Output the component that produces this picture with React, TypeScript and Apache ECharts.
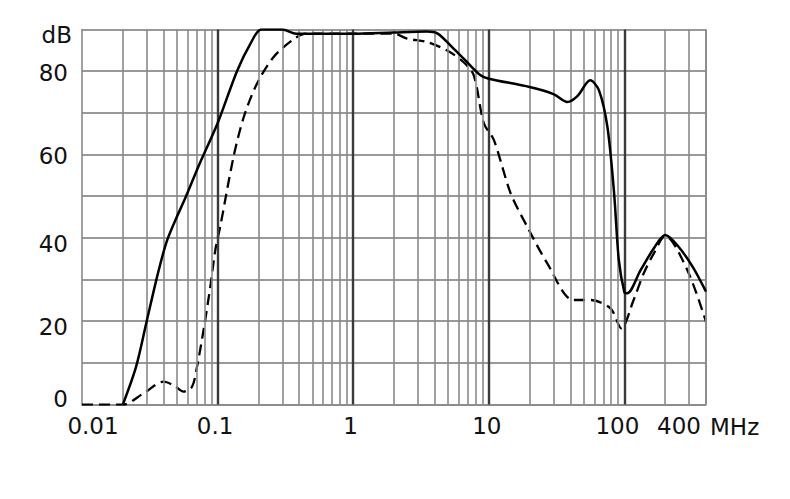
import React, { useEffect, useRef } from "react";
import * as echarts from "echarts";

// Frequency (MHz) / level (dB)
const solidFreq = [0.02, 0.025, 0.03, 0.036, 0.042, 0.05, 0.058, 0.073, 0.1, 0.139, 0.174, 0.21, 0.3, 0.38, 0.5, 1, 2, 3.5, 4.2, 5.5, 6.9, 8.7, 10, 20, 30, 38, 45, 56, 65, 75, 84, 91, 100, 105, 132, 165, 200, 245, 320, 400];
const solidDb = [0, 9, 20, 31, 39, 45, 49.7, 57.5, 67.5, 80, 86.5, 90, 90, 89, 89, 89, 89.3, 89.5, 89, 85.4, 82.2, 79, 78.2, 76.2, 74.5, 72.6, 74, 77.8, 75.4, 66.6, 50.7, 34.7, 27, 26.7, 32.3, 37.5, 40.7, 38.3, 33, 27.1];

const dashedFreq = [0.01, 0.02, 0.0284, 0.04, 0.048, 0.056, 0.0648, 0.0705, 0.0788, 0.0884, 0.0962, 0.105, 0.131, 0.156, 0.195, 0.259, 0.354, 0.45, 1, 2, 2.5, 3.5, 4.9, 6.5, 7.75, 9.2, 10.9, 14.5, 19.2, 27, 42, 56, 79, 95, 117, 139, 165, 200, 291, 400];
const dashedDb = [0, 0, 2.7, 5.5, 4.5, 3.1, 4.3, 9.1, 17.9, 28.3, 37.1, 43, 59.4, 69, 77, 83.4, 87.4, 89, 89, 89, 87.8, 87, 85, 82.2, 79, 67.5, 63.5, 50.7, 42.7, 33.9, 25.1, 25.1, 23.1, 18.3, 25.1, 31.5, 36.3, 40.5, 32.3, 19.9];

const xTickValues = [0.01, 0.1, 1, 10, 100, 400];
const xTickLabels = ["0.01", "0.1", "1", "10", "100", "400"];
const xUnit = "MHz";
const yUnit = "dB";
const yLabelValues = [0, 20, 40, 60, 80];

const FONT = "DejaVu Sans";
const FS = 23;

export default function App() {
  const ref = useRef<HTMLDivElement>(null);
  useEffect(() => {
    if (!ref.current) return;
    const chart = echarts.init(ref.current, undefined, { renderer: "svg" });

    // vertical grid lines: 1..9 x each decade within the axis range
    const gridLines: any[] = [];
    for (let k = -2; k <= 2; k++) {
      for (let m = 1; m <= 9; m++) {
        const v = parseFloat((m * Math.pow(10, k)).toPrecision(6));
        if (v <= 0.01 || v > 400) continue;
        const decade = m === 1;
        gridLines.push({
          xAxis: v,
          lineStyle: decade
            ? { color: "#3a3a3a", width: 2.4, type: "solid" }
            : { color: "#8a8a8a", width: 1.6, type: "solid" },
        });
      }
    }
    gridLines.push({ xAxis: 400, lineStyle: { color: "#8a8a8a", width: 1.6, type: "solid" } });

    const xPad: Record<string, number[]> = {
      "0.01": [0, 0, 0, 22],
      "0.1": [0, 5, 0, 0],
      "1": [0, 5, 0, 0],
      "10": [0, 4, 0, 0],
      "100": [0, 14, 0, 0],
      "400": [0, 54, 0, 0],
    };
    const xRich: any = {};
    xTickLabels.forEach((l, i) => {
      xRich["t" + i] = { fontFamily: FONT, fontSize: FS, color: "#111", padding: xPad[l] };
    });

    const yPad: Record<number, number[]> = {
      0: [0, 4, 12, 0],
      20: [11, 4, 0, 0],
      40: [12, 4, 0, 0],
      60: [2, 4, 0, 0],
      80: [3, 4, 0, 0],
      90: [10, 0, 0, 0],
    };
    const yRich: any = {};
    Object.keys(yPad).forEach((k) => {
      yRich["v" + k] = { fontFamily: FONT, fontSize: FS, color: "#111", padding: yPad[Number(k)] };
    });

    chart.setOption({
      animation: false,
      backgroundColor: "#fff",
      grid: { left: 82, right: 84, top: 29.5, bottom: 94.4, containLabel: false },
      xAxis: {
        type: "log",
        logBase: 10,
        min: 0.01,
        max: 400,
        axisLine: { show: true, lineStyle: { color: "#8a8a8a", width: 1.6 } },
        axisTick: { show: false },
        splitLine: { show: false },
        axisLabel: {
          margin: 10,
          showMinLabel: true,
          showMaxLabel: true,
          fontFamily: FONT,
          fontSize: FS,
          color: "#111",
          rich: xRich,
          formatter: (v: number) => {
            const i = xTickValues.findIndex((t) => Math.abs(Math.log10(t) - Math.log10(v)) < 1e-6);
            return i < 0 ? "" : `{t${i}|${xTickLabels[i]}}`;
          },
        },
      },
      yAxis: {
        type: "value",
        min: 0,
        max: 90,
        interval: 10,
        axisLine: { show: true, lineStyle: { color: "#8a8a8a", width: 1.6 } },
        axisTick: { show: false },
        splitLine: { show: true, lineStyle: { color: "#777", width: 1.6 } },
        axisLabel: {
          margin: 10,
          fontFamily: FONT,
          fontSize: FS,
          color: "#111",
          rich: yRich,
          formatter: (v: number) => {
            if (v === 90) return `{v90|${yUnit}}`;
            if (yLabelValues.includes(v)) return `{v${v}|${v}}`;
            return "";
          },
        },
      },
      graphic: [
        {
          type: "text",
          left: 710,
          top: 415,
          style: { text: xUnit, fontFamily: FONT, fontSize: FS, fill: "#111" },
        },
      ],
      series: [
        {
          type: "line",
          data: [],
          z: 1,
          silent: true,
          markLine: {
            silent: true,
            symbol: "none",
            label: { show: false },
            data: gridLines,
          },
        },
        {
          type: "line",
          z: 5,
          smooth: 0.3,
          showSymbol: false,
          lineStyle: { color: "#000", width: 2.5 },
          data: solidFreq.map((f, i) => [f, solidDb[i]]),
        },
        {
          type: "line",
          z: 4,
          smooth: 0.3,
          showSymbol: false,
          lineStyle: { color: "#000", width: 2.3, type: [11, 6] },
          data: dashedFreq.map((f, i) => [f, dashedDb[i]]),
        },
      ],
    });
    return () => chart.dispose();
  }, []);
  return (
    <div
      ref={ref}
      style={{ position: "fixed", left: 0, top: 0, width: 790, height: 499, background: "#fff" }}
    />
  );
}
